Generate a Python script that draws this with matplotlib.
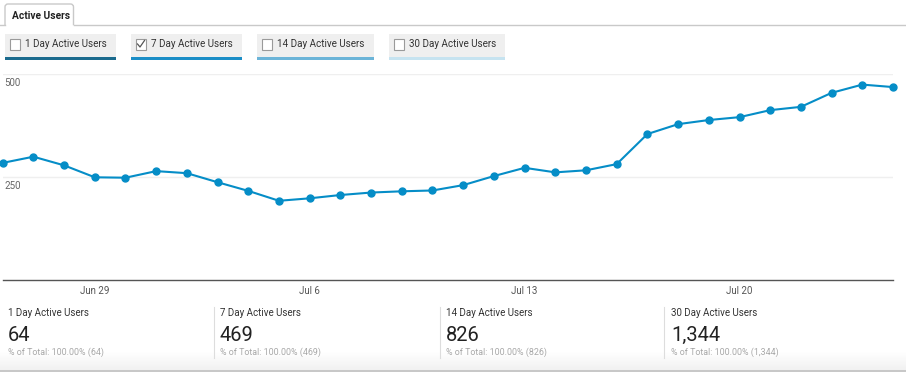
import matplotlib
matplotlib.use("Agg")
import matplotlib.pyplot as plt
from matplotlib.patches import Rectangle
from matplotlib.path import Path
from matplotlib.patches import PathPatch
import numpy as np

plt.rcParams['font.family'] = ['Roboto', 'DejaVu Sans']

# ---- data ----
days = ["Jun 26", "Jun 27", "Jun 28", "Jun 29", "Jun 30", "Jul 1", "Jul 2", "Jul 3",
        "Jul 4", "Jul 5", "Jul 6", "Jul 7", "Jul 8", "Jul 9", "Jul 10", "Jul 11",
        "Jul 12", "Jul 13", "Jul 14", "Jul 15", "Jul 16", "Jul 17", "Jul 18", "Jul 19",
        "Jul 20", "Jul 21", "Jul 22", "Jul 23", "Jul 24", "Jul 25"]
users_7day = [285, 300, 279, 250, 249, 265, 260, 238, 217, 193, 199, 207, 213, 216, 218,
              231, 253, 273, 262, 267, 282, 355, 379, 389, 396, 413, 421, 455, 475, 469]
tick_labels = ["Jun 29", "Jul 6", "Jul 13", "Jul 20"]
y_ticks = [250, 500]

metric_names = ["1 Day Active Users", "7 Day Active Users", "14 Day Active Users", "30 Day Active Users"]
metric_values = ["64", "469", "826", "1,344"]
metric_checked = [False, True, False, False]
metric_colors = ["#1a6a8d", "#1a8dc6", "#6bb4d8", "#c6e3f0"]

W, H = 906, 374
fig = plt.figure(figsize=(W / 100, H / 100), dpi=100)
fig.patch.set_facecolor("white")

# overlay axes in pixel coordinates for the UI chrome
ui = fig.add_axes([0, 0, 1, 1])
ui.axis("off")

# tab
ui.plot([0, 5], [25.3, 25.3], color="#c9c9c9", lw=1)
ui.plot([73.5, W], [25.3, 25.3], color="#c9c9c9", lw=1)
tab_verts = [(5, 25.3), (5, 7), (5, 4), (8, 4), (70.5, 4), (73.5, 4), (73.5, 7), (73.5, 25.3)]
tab_codes = [Path.MOVETO, Path.LINETO, Path.CURVE3, Path.CURVE3, Path.LINETO,
             Path.CURVE3, Path.CURVE3, Path.LINETO]
ui.add_patch(PathPatch(Path(tab_verts, tab_codes), facecolor="white", edgecolor="#c9c9c9", lw=1))
ui.text(12, 15.8, "Active Users", fontsize=7.3, fontweight="bold", color="#222222",
        va="center", ha="left")

# metric buttons
btn_x = [(5, 116), (131, 242), (257, 374), (389, 505)]
for (x0, x1), name, chk, col in zip(btn_x, metric_names, metric_checked, metric_colors):
    ui.add_patch(Rectangle((x0, 33.5), x1 - x0, 24, facecolor="#efefef", edgecolor="none"))
    ui.add_patch(Rectangle((x0, 57), x1 - x0, 3, facecolor=col, edgecolor="none"))
    ui.add_patch(Rectangle((x0 + 4.5, 39), 10.5, 10.5, facecolor="white",
                           edgecolor="#9a9a9a", lw=0.8))
    if chk:
        ui.plot([x0 + 6.5, x0 + 9, x0 + 13.5], [44, 47, 40.5], color="#555555", lw=0.9)
    ui.text(x0 + 20, 44, name, fontsize=7.1, color="#333333", va="center", ha="left")

# bottom scorecards
sc_x = [8, 220, 446, 671]
for x0, name, val in zip(sc_x, metric_names, metric_values):
    ui.text(x0, 312.5, name, fontsize=7.0, color="#333333", va="center", ha="left")
    ui.text(x0, 335.5, val, fontsize=14.5, color="#222222", va="center", ha="left")
    ui.text(x0, 352, f"% of Total: 100.00% ({val})", fontsize=6.4, color="#a8a8a8",
            va="center", ha="left")
for xs in [213.5, 439.5, 663.5]:
    ui.plot([xs, xs], [307, 358], color="#dddddd", lw=0.8)

# subtle gradient and bottom rule
grad = np.linspace(0, 1, 50).reshape(-1, 1)
ui.imshow(grad, extent=[0, W, 370, 352], origin="upper",
          cmap=matplotlib.colors.LinearSegmentedColormap.from_list("g", ["#ffffff", "#f1f1f1"]),
          aspect="auto", zorder=0)
ui.plot([0, W], [370.5, 370.5], color="#bdbdbd", lw=1.2)
ui.set_xlim(0, W)
ui.set_ylim(H, 0)

# ---- chart ----
x_left, x_right = 2.7, 893
y_top, y_bot = 74.3, 280.3
ax = fig.add_axes([x_left / W, (H - y_bot) / H, (x_right - x_left) / W, (y_bot - y_top) / H])
ax.patch.set_alpha(0)
xs = np.arange(len(days))
ax.plot(xs, users_7day, color="#058dc7", lw=1.5, marker="o", markersize=5,
        clip_on=False, zorder=3)
ax.set_xlim(0, len(days) - 1)
ax.set_ylim(0, 500)
for s in ["top", "left", "right"]:
    ax.spines[s].set_visible(False)
ax.spines["bottom"].set_color("#555555")
ax.spines["bottom"].set_linewidth(1.0)

ax.set_yticks(y_ticks)
ax.tick_params(axis="y", length=0, labelleft=False)
ax.grid(axis="y", color="#efefef", lw=1)
ax.set_axisbelow(True)
for v in y_ticks:
    ax.annotate(str(v), xy=(0, v), xycoords=("axes fraction", "data"), xytext=(2, -3.5),
                textcoords="offset pixels", fontsize=7.0, color="#666666", va="top", ha="left")

tick_pos = [days.index(t) for t in tick_labels]
ax.set_xticks(tick_pos, labels=tick_labels)
ax.tick_params(axis="x", length=0, pad=4, labelsize=7.0, labelcolor="#555555")

fig.savefig("out.png", dpi=100)
